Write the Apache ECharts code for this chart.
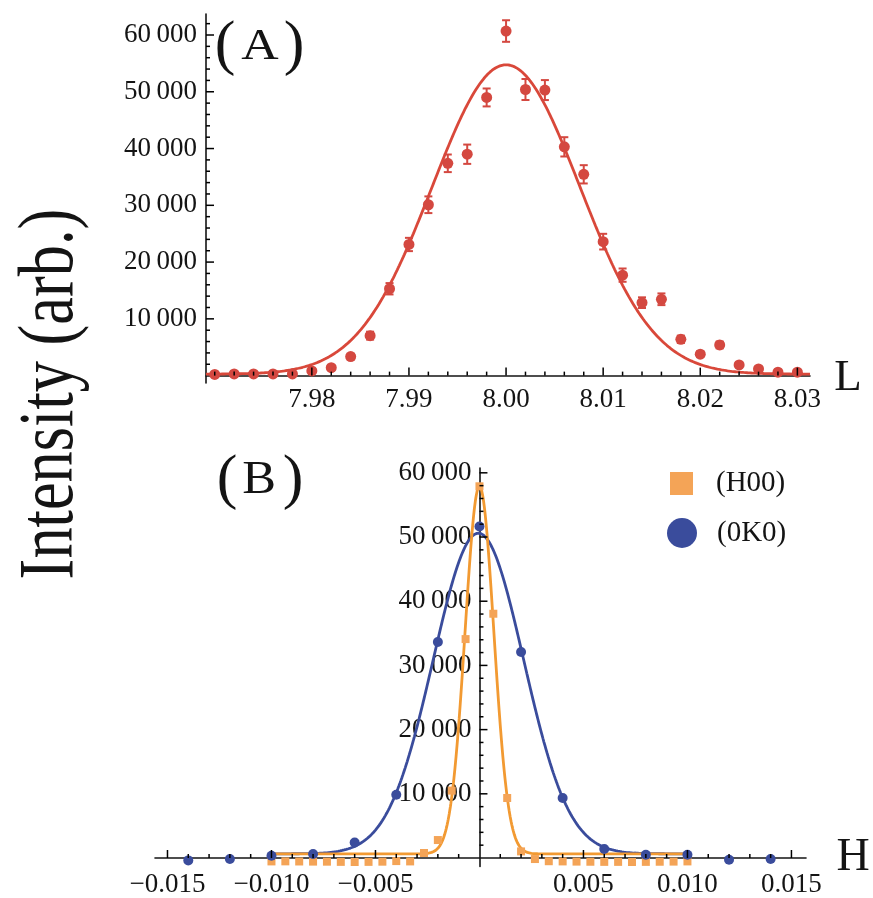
<!DOCTYPE html>
<html>
<head>
<meta charset="utf-8">
<script src="https://cdn.jsdelivr.net/npm/echarts@6/dist/echarts.min.js"></script>
<style>
  html, body { margin: 0; padding: 0; background: #fff; }
  #chart { width: 873px; height: 898px; }
</style>
</head>
<body>
<div id="chart"></div>
<script>
// ---- Panel (A): scan along L ----
const scanL = [7.970, 7.972, 7.974, 7.976, 7.978, 7.980, 7.982, 7.984, 7.986, 7.988,
               7.990, 7.992, 7.994, 7.996, 7.998, 8.000, 8.002, 8.004, 8.006, 8.008,
               8.010, 8.012, 8.014, 8.016, 8.018, 8.020, 8.022, 8.024, 8.026, 8.028, 8.030];
const intensityL = [200, 300, 300, 300, 300, 830, 1400, 3350, 7040, 15300,
                    23100, 30100, 37400, 39000, 49000, 60700, 50400, 50300, 40300, 35460,
                    23600, 17700, 12850, 13450, 6400, 3770, 5400, 1880, 1180, 600, 600];
const errorL = [300, 300, 300, 300, 300, 350, 400, 500, 700, 1000,
                1170, 1470, 1550, 1700, 1580, 1900, 1850, 1760, 1700, 1610,
                1380, 1170, 940, 1030, 650, 500, 600, 400, 350, 300, 300];
// Gaussian fit through the L scan
const fitL = { amp: 54500, center: 8.0, sigma: 0.0076, base: 250 };

// ---- Panel (B): scans along H and K ----
const scanK = [-0.014, -0.012, -0.010, -0.008, -0.006, -0.004, -0.002, 0.000,
               0.002, 0.004, 0.006, 0.008, 0.010, 0.012, 0.014];
const intensity0K0 = [-370, -150, 360, 620, 2430, 9860, 33640, 51650,
                      32090, 9350, 1400, 500, 500, -260, -150];
const scanH = [-0.010, -0.009333, -0.008667, -0.008, -0.007333, -0.006667, -0.006, -0.005333,
               -0.004667, -0.004, -0.003333, -0.002667, -0.002, -0.001333, -0.000667, 0.000,
               0.000667, 0.001333, 0.002, 0.002667, 0.003333, 0.004, 0.004667, 0.005333,
               0.006, 0.006667, 0.007333, 0.008, 0.008667, 0.009333, 0.010];
const intensityH00 = [-530, -520, -540, -560, -570, -600, -620, -600,
                      -570, -480, -530, 780, 2800, 10500, 34100, 57900,
                      38050, 9350, 1030, -160, -500, -530, -560, -580,
                      -600, -600, -620, -600, -580, -560, -530];
const fitH00 = { amp: 57230, center: 0.0, sigma: 0.00069, base: 650 };
const fit0K0 = { amp: 49950, center: -0.00005, sigma: 0.00217, base: 650 };

// ---- Ticks and labels ----
const majorLx = [7.98, 7.99, 8.00, 8.01, 8.02, 8.03];
const majorLy = [10000, 20000, 30000, 40000, 50000, 60000];
const majorHx = [-0.015, -0.010, -0.005, 0.005, 0.010, 0.015];
const majorHy = [10000, 20000, 30000, 40000, 50000, 60000];

function stepTicks(from, to, step) {
  const out = [];
  const n = Math.round((to - from) / step);
  for (let i = 0; i <= n; i++) out.push(+(from + i * step).toFixed(6));
  return out;
}
const minorLx = stepTicks(7.970, 8.030, 0.002).filter(v => majorLx.indexOf(v) < 0);
const minorLy = stepTicks(0, 62000, 2000).filter(v => v % 10000 !== 0);
const minorHx = stepTicks(-0.015, 0.015, 0.001).filter(v => Math.round(v * 1000) % 5 !== 0);
const minorHy = stepTicks(0, 60000, 2000).filter(v => v % 10000 !== 0);

function gaussianCurve(fit, from, to, count) {
  const pts = [];
  for (let i = 0; i <= count; i++) {
    const x = from + (to - from) * i / count;
    const d = x - fit.center;
    pts.push([x, fit.base + fit.amp * Math.exp(-d * d / (2 * fit.sigma * fit.sigma))]);
  }
  return pts;
}

const SERIF = "'Liberation Serif', 'DejaVu Serif', serif";
const INK = '#141414';
const RED_PT = '#d44840';
const RED_LN = '#d9483a';
const BLUE = '#3a4c9c';
const ORANGE_PT = '#f4a457';
const ORANGE_LN = '#f29a32';

function groupThousands(v) {
  const s = String(Math.round(v));
  return s.length > 3 ? s.slice(0, -3) + '\u2009' + s.slice(-3) : s;
}
function signed(v) {
  return v < 0 ? '\u2212' + Math.abs(v).toFixed(3) : v.toFixed(3);
}

// grid geometry (px)
const W = 873, H = 898;
const gA = { left: 206, right: 63, top: 14, bottom: 515 };
const gB = { left: 155, right: 67, top: 468, bottom: 31 };
const rangeA = { x: [7.9691, 8.0313], y: [-1300, 63700] };
const rangeB = { x: [-0.0156, 0.0157], y: [-1310, 60750] };
// distance from the grid edge to the value 0, so an axis can pass through the origin
function zeroOffset(range, lengthPx) {
  return (0 - range[0]) / (range[1] - range[0]) * lengthPx;
}
const offAx = -zeroOffset(rangeA.y, H - gA.top - gA.bottom);
const offBx = -zeroOffset(rangeB.y, H - gB.top - gB.bottom);
const offBy = -zeroOffset(rangeB.x, W - gB.left - gB.right);

function axis(o) {
  return {
    gridIndex: o.grid, type: 'value', min: o.range[0], max: o.range[1],
    offset: o.offset || 0,
    axisLine: { show: true, onZero: false, lineStyle: { color: INK, width: 1.6 } },
    axisTick: { show: false },
    axisLabel: { show: true, customValues: o.labels, margin: o.margin,
                 formatter: o.fmt, fontFamily: SERIF, fontSize: 27, color: INK },
    splitLine: { show: false }
  };
}

// inward tick marks through the axis scales: 'up' from the x axis, 'right' from the y axis
function tickSeries(xi, yi, values, anchor, dir, len) {
  return {
    type: 'custom', xAxisIndex: xi, yAxisIndex: yi, z: 6,
    data: values.map(v => dir === 'up' ? [v, anchor] : [anchor, v]),
    encode: { x: 0, y: 1 },
    renderItem: (params, api) => {
      const p = api.coord([api.value(0), api.value(1)]);
      const q = dir === 'up' ? [p[0], p[1] - len] : [p[0] + len, p[1]];
      return { type: 'group', children: [
        { type: 'line', shape: { x1: p[0], y1: p[1], x2: q[0], y2: q[1] },
          style: { stroke: '#000', lineWidth: 1.5 } } ] };
    }
  };
}

function glyph(text, x, y, size, sx) {
  return { type: 'text', x: x, y: y, scaleX: sx || 1,
    style: { text: text, fontFamily: SERIF, fontSize: size, fill: INK,
             align: 'center', verticalAlign: 'middle', textAlign: 'center', textVerticalAlign: 'middle' } };
}

const chart = echarts.init(document.getElementById('chart'), null, { renderer: 'canvas' });

const option = {
  animation: false,
  backgroundColor: '#fff',
  grid: [Object.assign({}, gA), Object.assign({}, gB)],
  xAxis: [
    axis({ grid: 0, range: rangeA.x, offset: offAx, labels: majorLx, margin: 11, fmt: v => v.toFixed(2) }),
    axis({ grid: 1, range: rangeB.x, offset: offBx, labels: majorHx, margin: 13, fmt: signed })
  ],
  yAxis: [
    axis({ grid: 0, range: rangeA.y, labels: majorLy, margin: 9, fmt: groupThousands }),
    axis({ grid: 1, range: rangeB.y, offset: offBy, labels: majorHy, margin: 8, fmt: groupThousands })
  ],
  legend: [
    { data: ['(H00)'], left: 670, top: 469, padding: 0, icon: 'rect', itemWidth: 23, itemHeight: 23,
      selectedMode: false,
      textStyle: { fontFamily: SERIF, fontSize: 29, color: INK, padding: [0, 0, 0, 18] } },
    { data: ['(0K0)'], left: 667, top: 518, padding: 0, icon: 'circle', itemWidth: 30, itemHeight: 30,
      selectedMode: false,
      textStyle: { fontFamily: SERIF, fontSize: 29, color: INK, padding: [0, 0, 0, 15] } }
  ],
  graphic: [
    glyph('(', 225, 47, 62), glyph('A', 260, 47, 45, 1.15), glyph(')', 294, 47, 62),
    glyph('(', 227, 481, 62), glyph('B', 259, 481, 46, 1.1), glyph(')', 293, 481, 62),
    glyph('L', 848, 378, 45),
    glyph('H', 853, 858, 46),
    { type: 'text', x: 52, y: 394, rotation: Math.PI / 2, scaleX: 0.8,
      style: { text: 'Intensity (arb.)', fontFamily: SERIF, fontSize: 78, fill: INK,
               align: 'center', verticalAlign: 'middle', textAlign: 'center', textVerticalAlign: 'middle' } }
  ],
  series: [
    tickSeries(0, 0, majorLx, 0, 'up', 8),
    tickSeries(0, 0, minorLx, 0, 'up', 4),
    tickSeries(0, 0, majorLy, rangeA.x[0], 'right', 8),
    tickSeries(0, 0, minorLy, rangeA.x[0], 'right', 4),
    tickSeries(1, 1, majorHx, 0, 'up', 8),
    tickSeries(1, 1, minorHx, 0, 'up', 4),
    tickSeries(1, 1, majorHy, 0, 'right', 8),
    tickSeries(1, 1, minorHy, 0, 'right', 4),
    {
      name: 'fit L', type: 'line', xAxisIndex: 0, yAxisIndex: 0, z: 2,
      data: gaussianCurve(fitL, rangeA.x[0], rangeA.x[1], 600),
      showSymbol: false, symbol: 'none', lineStyle: { color: RED_LN, width: 2.8 }
    },
    {
      name: 'L error', type: 'custom', xAxisIndex: 0, yAxisIndex: 0, z: 3,
      data: scanL.map((x, i) => [x, intensityL[i], errorL[i]]),
      encode: { x: 0, y: 1 },
      renderItem: (params, api) => {
        const x = api.value(0), y = api.value(1), e = api.value(2);
        const top = api.coord([x, y + e]);
        const bot = api.coord([x, y - e]);
        const w = 4;
        const st = { stroke: RED_PT, lineWidth: 2 };
        return { type: 'group', children: [
          { type: 'line', shape: { x1: top[0], y1: top[1], x2: bot[0], y2: bot[1] }, style: st },
          { type: 'line', shape: { x1: top[0] - w, y1: top[1], x2: top[0] + w, y2: top[1] }, style: st },
          { type: 'line', shape: { x1: bot[0] - w, y1: bot[1], x2: bot[0] + w, y2: bot[1] }, style: st }
        ] };
      }
    },
    {
      name: 'L scan', type: 'scatter', xAxisIndex: 0, yAxisIndex: 0, z: 4,
      data: scanL.map((x, i) => [x, intensityL[i]]),
      symbol: 'circle', symbolSize: 11, itemStyle: { color: RED_PT, opacity: 1 }
    },
    {
      name: 'fit 0K0', type: 'line', xAxisIndex: 1, yAxisIndex: 1, z: 2,
      data: gaussianCurve(fit0K0, -0.010, 0.010, 800),
      showSymbol: false, symbol: 'none', lineStyle: { color: BLUE, width: 2.8 }
    },
    {
      name: 'fit H00', type: 'line', xAxisIndex: 1, yAxisIndex: 1, z: 2,
      data: gaussianCurve(fitH00, -0.010, 0.010, 800),
      showSymbol: false, symbol: 'none', lineStyle: { color: ORANGE_LN, width: 2.8 }
    },
    {
      name: '(H00)', type: 'scatter', xAxisIndex: 1, yAxisIndex: 1, z: 4,
      data: scanH.map((x, i) => [x, intensityH00[i]]),
      symbol: 'rect', symbolSize: 8, itemStyle: { color: ORANGE_PT, opacity: 1 }
    },
    {
      name: '(0K0)', type: 'scatter', xAxisIndex: 1, yAxisIndex: 1, z: 4,
      data: scanK.map((x, i) => [x, intensity0K0[i]]),
      symbol: 'circle', symbolSize: 10, itemStyle: { color: BLUE, opacity: 1 }
    }
  ]
};

chart.setOption(option);

// settle the scene graph, then lay everything out a second time
function settle() {
  chart.getZr().storage.getDisplayList(true);
  chart.convertToPixel({ xAxisIndex: 0, yAxisIndex: 0 }, [8.0, 0]);
  chart.setOption({ graphic: [{ type: 'text', id: 'pass2', x: 0, y: 0, silent: true, style: { text: '' } }] });
  chart.getZr().refreshImmediately();
}
settle();

// once the serif face is ready, redraw with it
if (document.fonts && document.fonts.load) {
  document.fonts.load("27px 'Liberation Serif'").then(() => {
    chart.setOption(option, true);
    settle();
  }).catch(() => {});
}
</script>
</body>
</html>
